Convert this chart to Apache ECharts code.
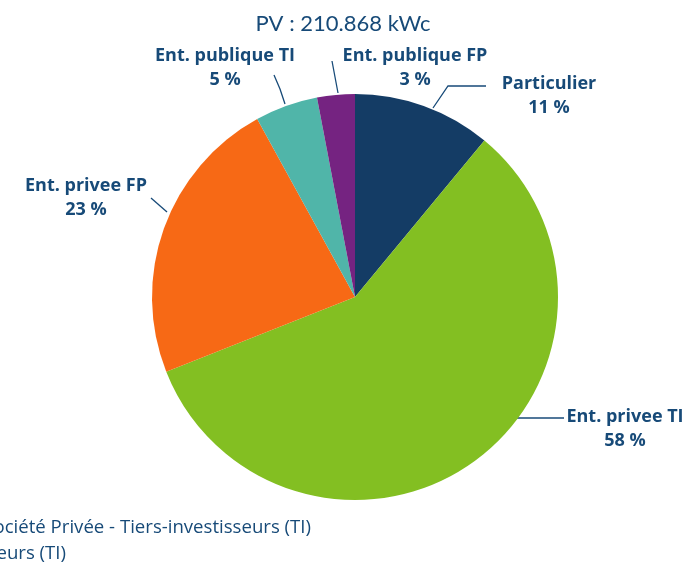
<!DOCTYPE html>
<html>
<head>
<meta charset="utf-8">
<script src="https://cdn.jsdelivr.net/npm/echarts@6/dist/echarts.min.js"></script>
<style>
  html, body { margin: 0; padding: 0; background: #ffffff; }
  #chart { width: 688px; height: 566px; }
</style>
</head>
<body>
<div id="chart"></div>
<script>
// Installed PV capacity split by owner type (percent)
const categories = ['Particulier', 'Ent. privee TI', 'Ent. privee FP', 'Ent. publique TI', 'Ent. publique FP'];
const shares = [11, 58, 23, 5, 3];
const sliceColors = ['#143c65', '#83bf22', '#f76915', '#50b5a9', '#752381'];
const titleText = 'PV : 210.868 kWc';
const noteLines = ['Société Privée - Tiers-investisseurs (TI)', 'Tiers-investisseurs (TI)'];

const textColor = '#174a78';

// Label placement and leader lines, keyed by category
const labelPlacement = {
  'Particulier':      { x: 549, y: 96,  line: [[433, 108], [448, 86], [486, 86]] },
  'Ent. privee TI':   { x: 625, y: 429, line: [[517, 418], [540, 418], [564, 418]] },
  'Ent. privee FP':   { x: 86,  y: 198, line: [[167, 212], [159, 205], [151, 198]] },
  'Ent. publique TI': { x: 225, y: 68,  line: [[285, 104], [280, 89], [274, 75]] },
  'Ent. publique FP': { x: 415, y: 68,  line: [[338, 93], [335, 77], [332, 61]] }
};

const chart = echarts.init(document.getElementById('chart'), null, { renderer: 'canvas' });

chart.setOption({
  animation: false,
  backgroundColor: '#ffffff',
  title: {
    text: titleText,
    left: 338,
    textAlign: 'center',
    top: 8,
    textStyle: { fontFamily: 'Lato', fontWeight: 'normal', fontSize: 22, color: textColor }
  },
  series: [{
    type: 'pie',
    center: [355, 297],
    radius: 203,
    startAngle: 90,
    clockwise: true,
    avoidLabelOverlap: false,
    itemStyle: { borderWidth: 0 },
    label: {
      show: true,
      position: 'outside',
      formatter: '{b}\n{c} %',
      fontFamily: 'Open Sans',
      fontWeight: 'bold',
      fontSize: 18,
      lineHeight: 24,
      color: textColor,
      align: 'center'
    },
    labelLine: {
      show: true,
      lineStyle: { color: textColor, width: 1.3 }
    },
    labelLayout: function (params) {
      const name = categories[params.dataIndex];
      const p = labelPlacement[name];
      return {
        x: p.x,
        y: p.y,
        align: 'center',
        verticalAlign: 'middle',
        labelLinePoints: p.line
      };
    },
    data: categories.map(function (name, i) {
      return { name: name, value: shares[i], itemStyle: { color: sliceColors[i] } };
    })
  }],
  graphic: [
    {
      type: 'text',
      right: 688 - 311,
      top: 518,
      style: { text: noteLines[0], fontFamily: 'Open Sans', fontSize: 18.6, fill: textColor, textAlign: 'right' }
    },
    {
      type: 'text',
      right: 688 - 66,
      top: 544,
      style: { text: noteLines[1], fontFamily: 'Open Sans', fontSize: 18.6, fill: textColor, textAlign: 'right' }
    }
  ]
});
</script>
</body>
</html>
